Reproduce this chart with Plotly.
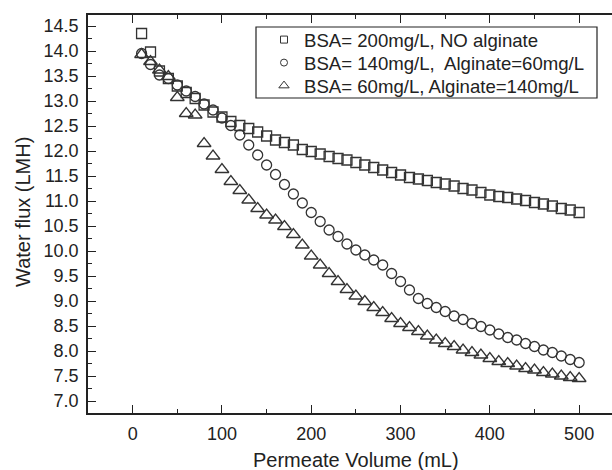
import plotly.graph_objects as go

volume = list(range(10, 510, 10))

bsa200 = [14.35, 13.98, 13.6, 13.45, 13.3, 13.17, 13.05, 12.92, 12.78, 12.68,
          12.59, 12.51, 12.45, 12.38, 12.3, 12.22, 12.17, 12.12, 12.03, 11.99,
          11.94, 11.89, 11.85, 11.82, 11.77, 11.72, 11.67, 11.62, 11.57, 11.52,
          11.47, 11.44, 11.41, 11.37, 11.34, 11.3, 11.25, 11.22, 11.17, 11.12,
          11.09, 11.07, 11.04, 11.01, 10.97, 10.94, 10.9, 10.85, 10.82, 10.77]

bsa140 = [13.95, 13.73, 13.52, 13.45, 13.32, 13.2, 13.09, 12.94, 12.82, 12.66,
          12.51, 12.32, 12.12, 11.92, 11.72, 11.53, 11.33, 11.14, 10.96, 10.77,
          10.59, 10.42, 10.29, 10.14, 10.02, 9.92, 9.82, 9.72, 9.55, 9.39,
          9.22, 9.05, 8.95, 8.87, 8.79, 8.7, 8.63, 8.55, 8.49, 8.42,
          8.34, 8.27, 8.22, 8.15, 8.09, 8.02, 7.97, 7.9, 7.83, 7.77]

bsa60 = [13.93, 13.79, 13.62, 13.49, 13.07, 12.75, 12.72, 12.15, 11.9, 11.63,
         11.39, 11.21, 11.02, 10.85, 10.72, 10.62, 10.49, 10.33, 10.12, 9.9,
         9.72, 9.55, 9.39, 9.23, 9.1, 8.99, 8.87, 8.77, 8.65, 8.55,
         8.47, 8.39, 8.3, 8.22, 8.15, 8.09, 8.02, 7.97, 7.92, 7.85,
         7.79, 7.75, 7.7, 7.65, 7.62, 7.57, 7.54, 7.5, 7.47, 7.45]

series_names = ["BSA= 200mg/L, NO alginate",
                "BSA= 140mg/L,  Alginate=60mg/L",
                "BSA= 60mg/L, Alginate=140mg/L"]
symbols = ["square-open", "circle-open", "triangle-up-open"]
plot_sizes = [10, 10, 12]
legend_sizes = [7, 7, 9]
series = [bsa200, bsa140, bsa60]

FONT = "Liberation Sans, Arial, Helvetica, sans-serif"
INK = "#222222"

# plot area in pixels
L, R, T, B = 88, 612, 15, 413
W, H = R - L, B - T


def px(x):
    return (x - L) / W


def py(y):
    return (B - y) / H


legend_ids = ["legend", "legend2", "legend3"]
row_centers = [40, 63, 86]

fig = go.Figure()
for name, sym, ys, sz in zip(series_names, symbols, series, plot_sizes):
    fig.add_trace(go.Scatter(
        x=volume, y=ys, mode="markers", showlegend=False,
        marker=dict(symbol=sym, size=sz, color="#333333",
                    line=dict(width=1.3, color="#2a2a2a")),
    ))
for name, sym, sz, lid in zip(series_names, symbols, legend_sizes, legend_ids):
    fig.add_trace(go.Scatter(
        x=[None], y=[None], mode="markers", name=name, legend=lid,
        marker=dict(symbol=sym, size=sz, color="#333333",
                    line=dict(width=1, color="#333333")),
    ))

legend_common = dict(xanchor="left", yanchor="middle",
                     bgcolor="rgba(0,0,0,0)", borderwidth=0,
                     font=dict(size=18.6, family=FONT, color=INK), itemwidth=30)

fig.update_layout(
    width=612, height=470,
    margin=dict(l=L, r=612 - R, t=T, b=470 - B),
    paper_bgcolor="white", plot_bgcolor="white",
    font=dict(family=FONT, color=INK, size=18),
    legend=dict(x=px(264), y=py(row_centers[0]), **legend_common),
    legend2=dict(x=px(264), y=py(row_centers[1]), **legend_common),
    legend3=dict(x=px(264), y=py(row_centers[2]), **legend_common),
    xaxis=dict(range=[-50, 536.8], showgrid=False, zeroline=False,
               showline=True, linecolor=INK, linewidth=1.5, mirror="ticks",
               ticks="inside", ticklen=8, tickwidth=1.3, tickcolor=INK,
               tick0=0, dtick=100, ticklabelstandoff=4,
               minor=dict(ticks="inside", ticklen=4, dtick=50, tick0=0,
                          tickwidth=1.3, tickcolor=INK),
               tickfont=dict(size=18)),
    yaxis=dict(range=[6.76, 14.72], showgrid=False, zeroline=False,
               showline=True, linecolor=INK, linewidth=1.5,
               ticks="inside", ticklen=8, tickwidth=1.3, tickcolor=INK,
               tick0=7, dtick=0.5, tickformat=".1f", ticklabelstandoff=4,
               minor=dict(ticks="inside", ticklen=4, dtick=0.25, tick0=7,
                          tickwidth=1.3, tickcolor=INK),
               tickfont=dict(size=18)),
    shapes=[dict(type="rect", xref="paper", yref="paper",
                 x0=px(256), x1=px(597), y0=py(98), y1=py(27),
                 line=dict(color=INK, width=1.2), fillcolor="rgba(0,0,0,0)")],
    annotations=[
        dict(text="Permeate Volume (mL)", x=250, xref="x", y=py(460), yref="paper",
             showarrow=False, font=dict(size=20), xanchor="center", yanchor="middle"),
        dict(text="Water flux (LMH)", x=px(23), xref="paper", y=py(212), yref="paper",
             showarrow=False, textangle=-90, font=dict(size=20),
             xanchor="center", yanchor="middle"),
    ],
)

fig.write_html("out.html", config={"displayModeBar": False},
               post_script="document.body.style.margin='0';document.body.style.padding='0';")
